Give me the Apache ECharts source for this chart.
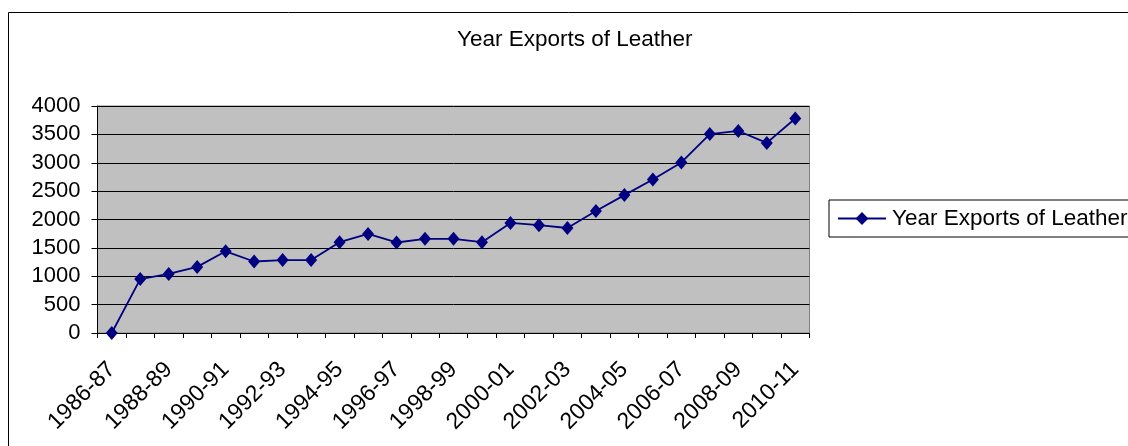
<!DOCTYPE html>
<html>
<head>
<meta charset="utf-8">
<script src="https://cdn.jsdelivr.net/npm/echarts@6/dist/echarts.min.js"></script>
<style>
  html, body { margin: 0; padding: 0; background: #fff; }
  #chart { width: 1128px; height: 446px; }
</style>
</head>
<body>
<div id="chart"></div>
<script>
// Financial years of leather exports
const years = [
  '1986-87', '1987-88', '1988-89', '1989-90', '1990-91', '1991-92', '1992-93',
  '1993-94', '1994-95', '1995-96', '1996-97', '1997-98', '1998-99', '1999-00',
  '2000-01', '2001-02', '2002-03', '2003-04', '2004-05', '2005-06', '2006-07',
  '2007-08', '2008-09', '2009-10', '2010-11'
];
// Export value for each year
const exportsValues = [
  0, 950, 1040, 1165, 1440, 1260, 1285, 1285, 1600, 1745, 1595, 1660, 1660,
  1600, 1940, 1900, 1850, 2150, 2430, 2705, 3005, 3505, 3560, 3350, 3780
];
const seriesName = 'Year Exports of Leather';
const chartTitle = 'Year Exports of Leather';

const FONT = '"Liberation Sans", Arial, sans-serif';
const chart = echarts.init(document.getElementById('chart'), null, { renderer: 'canvas' });

chart.setOption({
  animation: false,
  backgroundColor: '#fff',
  textStyle: { fontFamily: FONT, color: '#000' },
  title: {
    text: chartTitle,
    left: 457,
    top: 28,
    padding: 0,
    textStyle: { fontFamily: FONT, fontSize: 22.5, fontWeight: 'normal', color: '#000' }
  },
  legend: {
    left: 829,
    top: 200,
    orient: 'vertical',
    padding: [7, 30, 7, 8],
    borderColor: '#000',
    borderWidth: 1,
    itemWidth: 48,
    itemHeight: 16,
    itemGap: 0,
    textStyle: { fontFamily: FONT, fontSize: 22.5, color: '#000', padding: [0, 0, 0, 1] },
    data: [seriesName]
  },
  graphic: [{
    type: 'rect',
    silent: true,
    z: -1,
    shape: { x: 8.5, y: 12.5, width: 1300, height: 600 },
    style: { fill: null, stroke: '#000', lineWidth: 1 }
  }],
  grid: {
    left: 97.5,
    right: 318.5,
    top: 106,
    bottom: 113,
    show: true,
    backgroundColor: '#c0c0c0',
    borderColor: '#808080',
    borderWidth: 1
  },
  xAxis: {
    type: 'category',
    data: years,
    boundaryGap: true,
    axisLine: { show: true, lineStyle: { color: '#000', width: 1 } },
    axisTick: { show: true, alignWithLabel: false, interval: 0, length: 5, lineStyle: { color: '#000' } },
    axisLabel: {
      interval: 1,
      rotate: 45,
      margin: 33,
      fontFamily: FONT,
      fontSize: 23,
      color: '#000'
    },
    splitLine: { show: false }
  },
  yAxis: {
    type: 'value',
    min: 0,
    max: 4000,
    interval: 500,
    axisLine: { show: true, lineStyle: { color: '#000', width: 1 } },
    axisTick: { show: true, length: 6, lineStyle: { color: '#000' } },
    axisLabel: {
      fontFamily: FONT,
      fontSize: 22,
      color: '#000',
      margin: 17,
      formatter: (v) => String(v)
    },
    splitLine: { show: true, lineStyle: { color: '#000', width: 1 } }
  },
  series: [{
    name: seriesName,
    type: 'line',
    data: exportsValues,
    symbol: 'diamond',
    symbolSize: [12, 14],
    showAllSymbol: true,
    itemStyle: { color: '#000080' },
    lineStyle: { color: '#000080', width: 1.8 },
    emphasis: { disabled: true }
  }]
});
</script>
</body>
</html>
